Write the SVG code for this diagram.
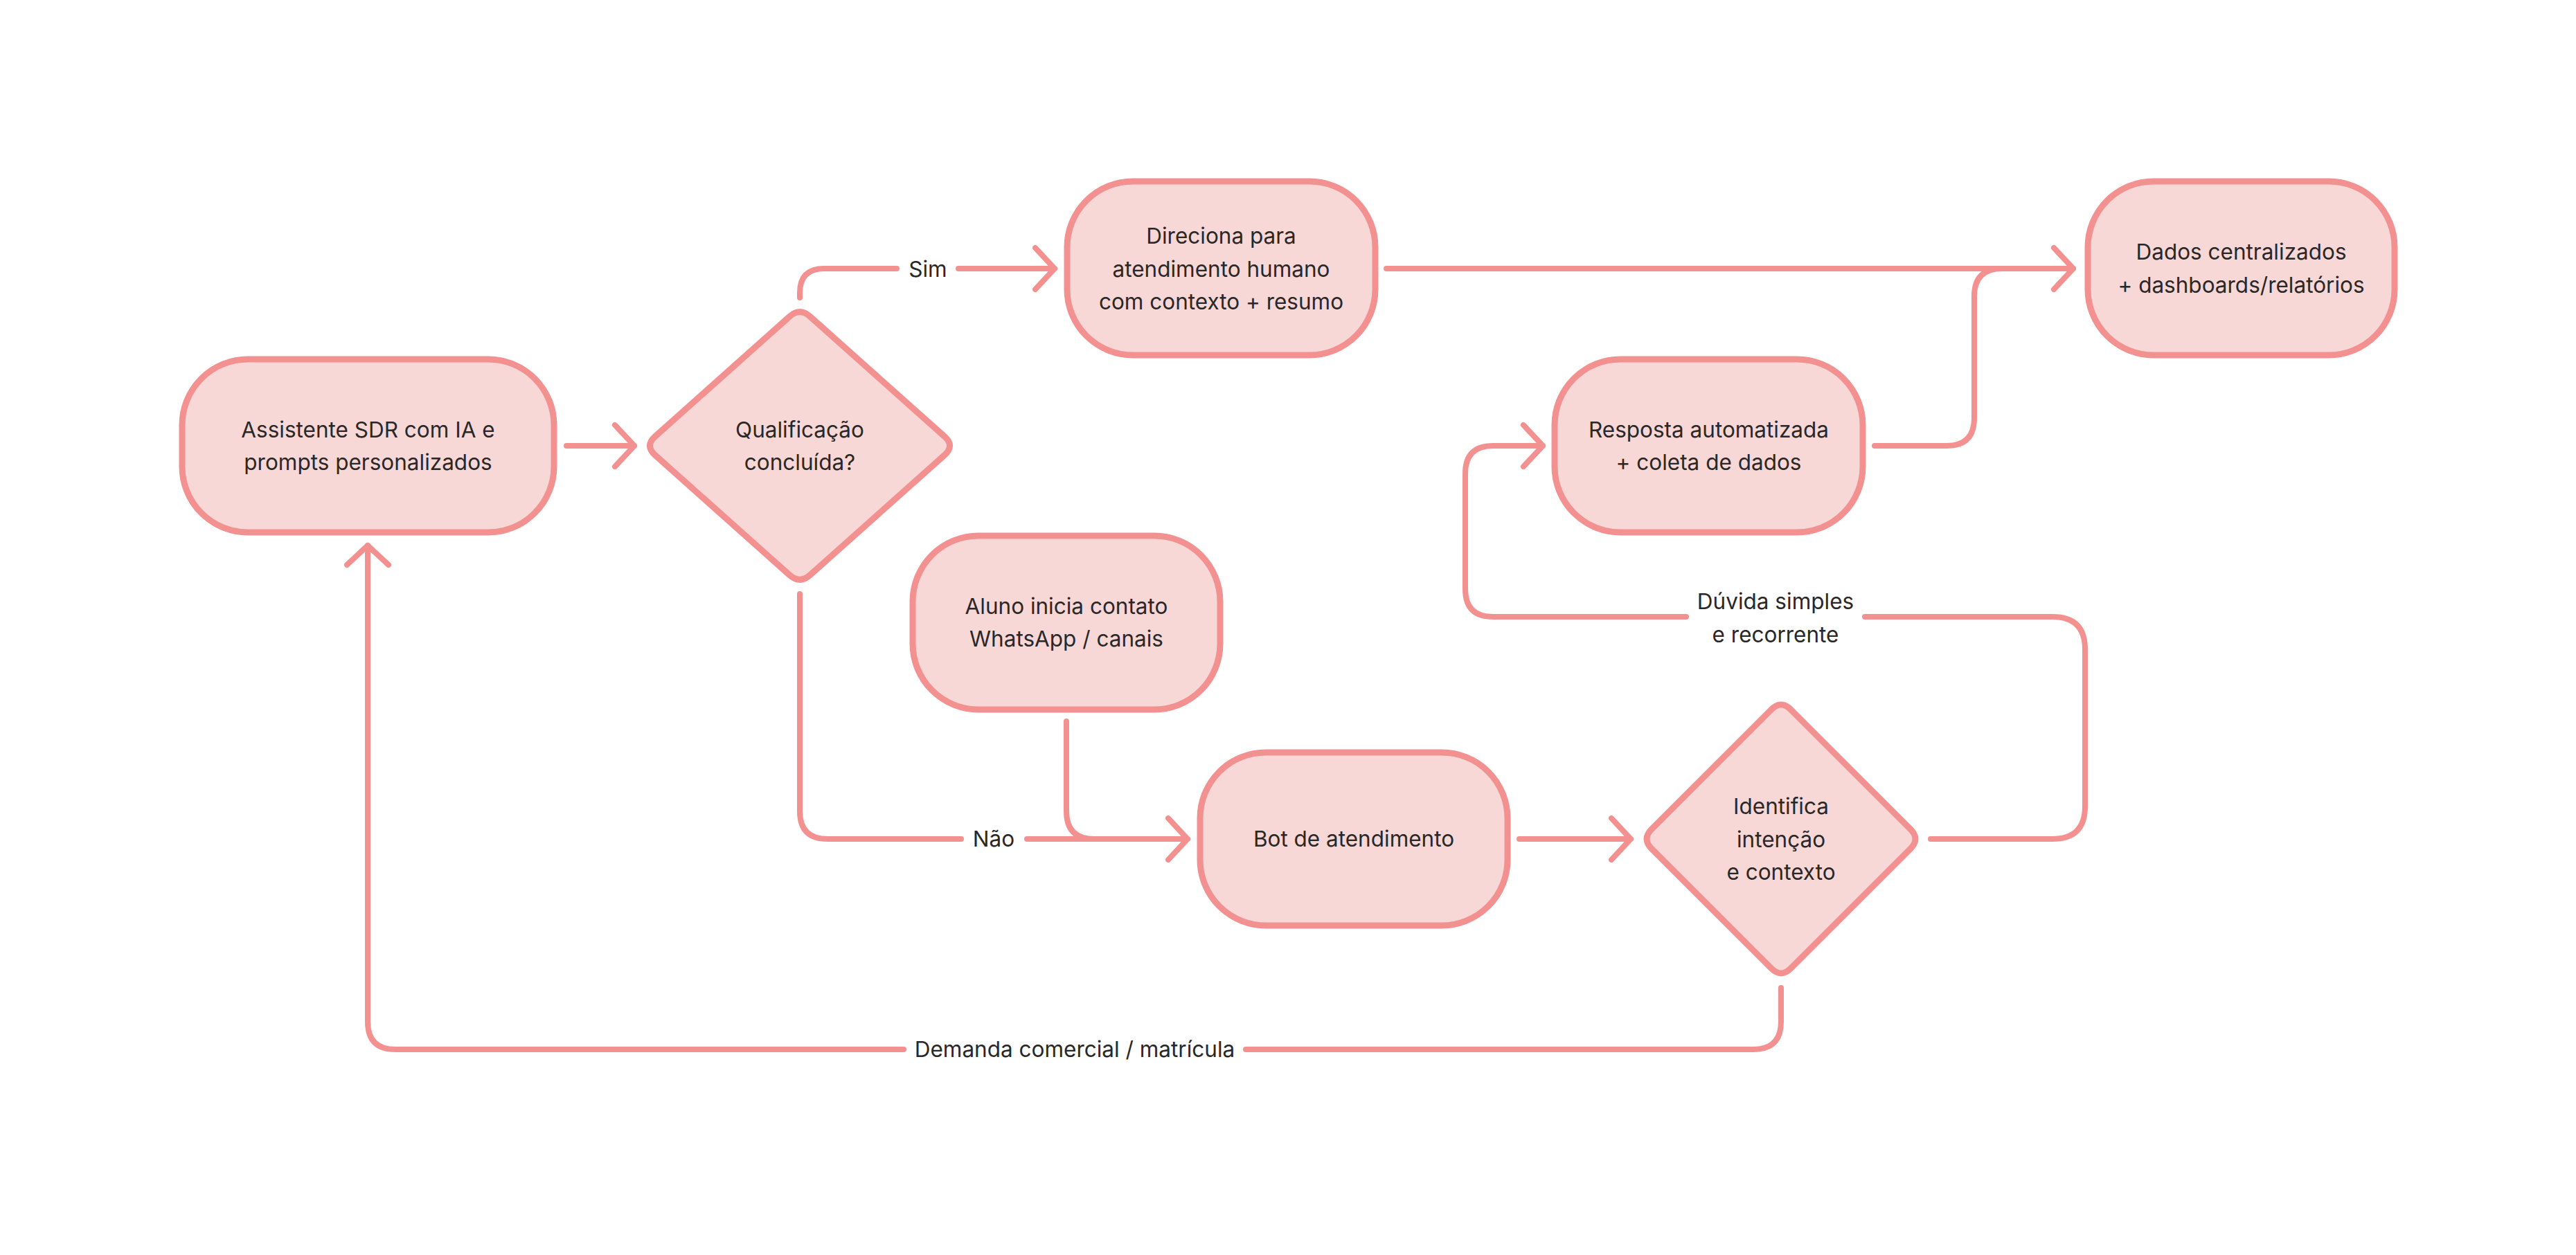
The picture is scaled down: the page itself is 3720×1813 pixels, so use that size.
<svg xmlns="http://www.w3.org/2000/svg" width="3720" height="1813" viewBox="0 0 3720 1813">
<style>
.node{fill:#F8D7D7;stroke:#F39191;stroke-width:9;stroke-linejoin:round}
.edge{fill:none;stroke:#F39191;stroke-width:8;stroke-linecap:round;stroke-linejoin:round}
.t{font-family:Inter,"Noto Sans","Liberation Sans",sans-serif;font-size:31.5px;fill:#2A2727;text-anchor:middle}
</style>
<defs>
<marker id="arrow" markerUnits="userSpaceOnUse" viewBox="-40 -40 50 80" refX="0" refY="0" markerWidth="50" markerHeight="80" orient="auto">
<path d="M-28,-30 L0,0 L-28,30" fill="none" stroke="#F39191" stroke-width="8" stroke-linecap="round" stroke-linejoin="round"/>
</marker>
</defs>
<rect width="3720" height="1813" fill="#FFFFFF"/>
<g id="connectors">
<path class="edge" d="M818,644 H916" marker-end="url(#arrow)"/>
<path class="edge" d="M1155,430 V423 Q1155,388 1190,388 H1295"/>
<path class="edge" d="M1384,388 H1523" marker-end="url(#arrow)"/>
<path class="edge" d="M2002,388 H2994" marker-end="url(#arrow)"/>
<path class="edge" d="M2707,644 H2811 Q2851,644 2851,604 V428 Q2851,388 2891,388 H2960"/>
<path class="edge" d="M1540,1042 V1172 Q1540,1212 1580,1212 H1640"/>
<path class="edge" d="M1155,858 V1172 Q1155,1212 1195,1212 H1388"/>
<path class="edge" d="M1483,1212 H1715" marker-end="url(#arrow)"/>
<path class="edge" d="M2194,1212 H2355" marker-end="url(#arrow)"/>
<path class="edge" d="M2788,1212 H2964 Q3011,1212 3011,1165 V938 Q3011,891 2964,891 H2693"/>
<path class="edge" d="M2435,891 H2156 Q2116,891 2116,851 V684 Q2116,644 2156,644 H2228" marker-end="url(#arrow)"/>
<path class="edge" d="M2572,1427 V1476 Q2572,1516 2532,1516 H1799"/>
<path class="edge" d="M1305,1516 H571 Q531,1516 531,1476 V788" marker-end="url(#arrow)"/>
<text class="t" x="1340" y="400">Sim</text>
<text class="t" x="1435" y="1223">Não</text>
<text class="t" x="2564" y="880">Dúvida simples</text>
<text class="t" x="2564" y="928">e recorrente</text>
<text class="t" x="1552" y="1527">Demanda comercial / matrícula</text>
</g>
<g id="n-sdr">
<rect class="node" x="263" y="519" width="537" height="250" rx="95" ry="95"/>
<text class="t" x="531.5" y="632">Assistente SDR com IA e</text>
<text class="t" x="531.5" y="679">prompts personalizados</text>
</g>
<g id="n-qualificacao">
<path class="node" d="M1140.1,457.3 Q1155,444 1169.9,457.3 L1364.1,630.7 Q1379,644 1364.1,657.3 L1169.9,830.7 Q1155,844 1140.1,830.7 L945.9,657.3 Q931,644 945.9,630.7 Z"/>
<text class="t" x="1155" y="632">Qualificação</text>
<text class="t" x="1155" y="679">concluída?</text>
</g>
<g id="n-direciona">
<rect class="node" x="1541" y="262" width="445" height="251" rx="95" ry="95"/>
<text class="t" x="1763.5" y="352">Direciona para</text>
<text class="t" x="1763.5" y="400">atendimento humano</text>
<text class="t" x="1763.5" y="447">com contexto + resumo</text>
</g>
<g id="n-dados">
<rect class="node" x="3015" y="262" width="443" height="251" rx="95" ry="95"/>
<text class="t" x="3236.5" y="375">Dados centralizados</text>
<text class="t" x="3236.5" y="423">+ dashboards/relatórios</text>
</g>
<g id="n-resposta">
<rect class="node" x="2245" y="519" width="445" height="250" rx="95" ry="95"/>
<text class="t" x="2467.5" y="632">Resposta automatizada</text>
<text class="t" x="2467.5" y="679">+ coleta de dados</text>
</g>
<g id="n-aluno">
<rect class="node" x="1318" y="774" width="444" height="251" rx="95" ry="95"/>
<text class="t" x="1540" y="887">Aluno inicia contato</text>
<text class="t" x="1540" y="934">WhatsApp / canais</text>
</g>
<g id="n-bot">
<rect class="node" x="1733" y="1087" width="444" height="250" rx="95" ry="95"/>
<text class="t" x="1955" y="1223">Bot de atendimento</text>
</g>
<g id="n-identifica">
<path class="node" d="M2557.9,1025.1 Q2572,1011 2586.1,1025.1 L2758.9,1197.9 Q2773,1212 2758.9,1226.1 L2586.1,1398.9 Q2572,1413 2557.9,1398.9 L2385.1,1226.1 Q2371,1212 2385.1,1197.9 Z"/>
<text class="t" x="2572" y="1176">Identifica</text>
<text class="t" x="2572" y="1224">intenção</text>
<text class="t" x="2572" y="1271">e contexto</text>
</g>
</svg>
